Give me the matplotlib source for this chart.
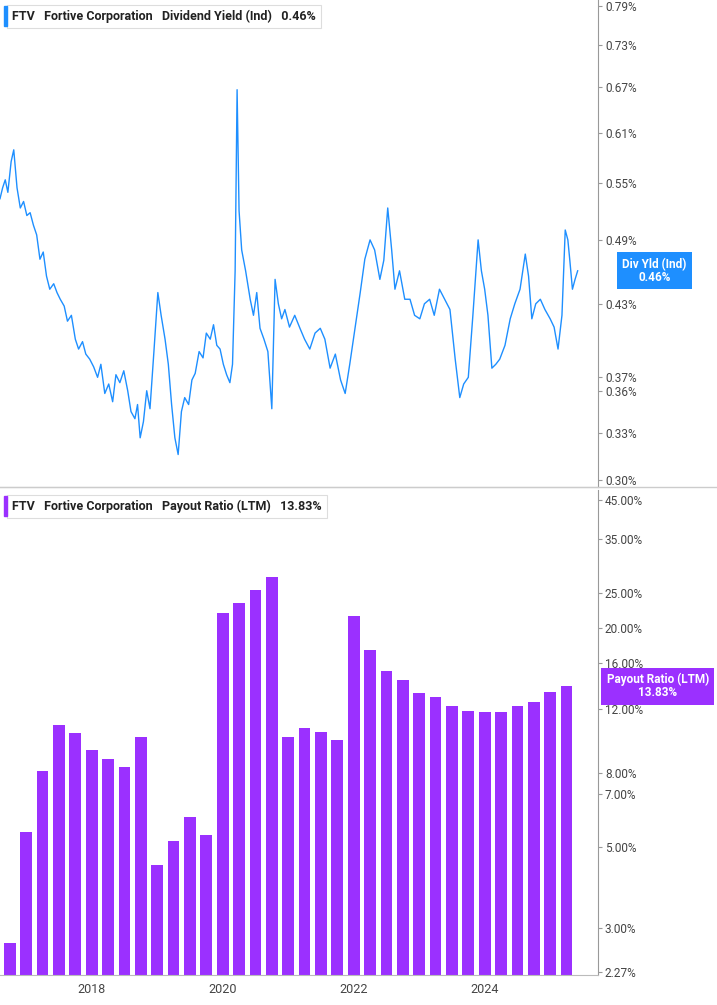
import matplotlib
matplotlib.use("Agg")
import matplotlib.pyplot as plt
from matplotlib.ticker import FixedLocator, NullLocator, FixedFormatter

yld_dates = [2016.60,2016.64,2016.68,2016.72,2016.77,2016.81,2016.86,2016.91,2016.96,2017.01,2017.06,2017.11,2017.16,2017.21,2017.26,2017.31,2017.36,2017.42,2017.47,2017.52,2017.58,2017.63,2017.69,2017.75,2017.80,2017.86,2017.91,2017.97,2018.03,2018.09,2018.14,2018.20,2018.26,2018.32,2018.37,2018.43,2018.49,2018.55,2018.60,2018.66,2018.70,2018.74,2018.79,2018.84,2018.89,2018.95,2019.01,2019.06,2019.12,2019.17,2019.22,2019.27,2019.32,2019.37,2019.42,2019.48,2019.53,2019.58,2019.64,2019.70,2019.75,2019.81,2019.86,2019.91,2019.96,2020.01,2020.06,2020.11,2020.15,2020.19,2020.22,2020.25,2020.29,2020.35,2020.42,2020.47,2020.52,2020.57,2020.63,2020.69,2020.75,2020.80,2020.85,2020.90,2020.95,2021.02,2021.10,2021.18,2021.25,2021.33,2021.41,2021.49,2021.56,2021.64,2021.72,2021.80,2021.87,2021.94,2022.02,2022.10,2022.17,2022.25,2022.32,2022.40,2022.46,2022.52,2022.58,2022.63,2022.70,2022.78,2022.86,2022.93,2023.01,2023.08,2023.16,2023.23,2023.31,2023.39,2023.47,2023.55,2023.62,2023.68,2023.75,2023.82,2023.90,2023.95,2024.00,2024.05,2024.11,2024.17,2024.23,2024.31,2024.39,2024.46,2024.54,2024.62,2024.67,2024.72,2024.78,2024.85,2024.92,2025.00,2025.06,2025.12,2025.18,2025.23,2025.27,2025.30,2025.34,2025.38,2025.42]
yld_vals = [0.533,0.545,0.554,0.540,0.575,0.589,0.545,0.523,0.530,0.515,0.518,0.505,0.495,0.471,0.478,0.455,0.443,0.448,0.440,0.434,0.428,0.415,0.420,0.400,0.392,0.398,0.388,0.384,0.378,0.370,0.380,0.358,0.365,0.352,0.372,0.366,0.375,0.360,0.345,0.340,0.350,0.327,0.338,0.360,0.347,0.390,0.440,0.420,0.400,0.380,0.350,0.327,0.316,0.345,0.355,0.350,0.368,0.373,0.390,0.385,0.405,0.400,0.412,0.395,0.392,0.380,0.372,0.366,0.380,0.460,0.666,0.520,0.480,0.460,0.434,0.420,0.440,0.409,0.400,0.390,0.347,0.452,0.430,0.417,0.425,0.410,0.420,0.409,0.400,0.392,0.405,0.409,0.400,0.377,0.388,0.368,0.358,0.380,0.409,0.440,0.471,0.490,0.480,0.452,0.470,0.523,0.480,0.443,0.460,0.434,0.434,0.420,0.417,0.430,0.434,0.420,0.443,0.434,0.425,0.384,0.355,0.365,0.370,0.420,0.490,0.460,0.443,0.420,0.377,0.380,0.384,0.395,0.417,0.430,0.443,0.476,0.455,0.417,0.430,0.434,0.425,0.417,0.410,0.392,0.420,0.500,0.490,0.470,0.443,0.452,0.460]

bar_dates = [2016.75 + 0.25*i for i in range(35)]
payout = [2.71,5.50,8.10,10.84,10.3,9.25,8.74,8.31,10.05,4.46,5.17,6.02,5.40,22.0,23.4,25.4,27.6,10.05,10.63,10.37,9.86,21.6,17.4,15.2,14.4,13.2,12.9,12.2,11.8,11.7,11.7,12.2,12.5,13.3,13.83]

top_ticks = [0.30,0.33,0.36,0.37,0.43,0.49,0.55,0.61,0.67,0.73,0.79]
bot_ticks = [2.27,3.0,5.0,7.0,8.0,12.0,16.0,20.0,25.0,35.0,45.0]
x_ticks = [2018,2020,2022,2024]

BLUE = "#1e8fff"
PURPLE = "#9b30ff"
plt.rcParams["font.family"] = "Roboto"
fig = plt.figure(figsize=(7.17,10.05), dpi=100)
ax1 = fig.add_axes([0, 0.5154, 0.834, 0.4846])
ax2 = fig.add_axes([0, 0.03, 0.834, 0.4826])

for ax in (ax1, ax2):
    ax.set_xlim(2016.6, 2025.73)
    ax.yaxis.tick_right()
    for s in ("top","left"):
        ax.spines[s].set_visible(False)
    ax.spines["right"].set_color("#999999")
    ax.spines["bottom"].set_color("#bbbbbb")
    ax.set_yscale("log")
    ax.yaxis.set_minor_locator(NullLocator())
    ax.tick_params(axis="y", labelsize=8.5, colors="#999999", length=3, pad=2, labelcolor="#444444")

ax1.plot(yld_dates, yld_vals, color=BLUE, lw=1.0)
ax1.set_ylim(0.2957, 0.800)
ax1.yaxis.set_major_locator(FixedLocator(top_ticks))
ax1.yaxis.set_major_formatter(FixedFormatter([f"{t:.2f}%" for t in top_ticks]))
ax1.set_xticks([])

ax2.bar(bar_dates, payout, width=0.18, color=PURPLE, bottom=0.01)
ax2.set_ylim(2.227, 47.9)
ax2.yaxis.set_major_locator(FixedLocator(bot_ticks))
ax2.yaxis.set_major_formatter(FixedFormatter([f"{t:.2f}%" for t in bot_ticks]))
ax2.set_xticks(x_ticks)
ax2.set_xticklabels([str(x) for x in x_ticks], fontsize=9, color="#444444")
ax2.tick_params(axis="x", length=0, pad=6)

def legend(ax, color, text, value):
    ax.add_patch(plt.Rectangle((0.006, 0.947), 0.006, 0.04, transform=ax.transAxes, color=color, clip_on=False, zorder=5))
    ax.text(0.02, 0.966, "FTV   Fortive Corporation   " + text + "   " + value, transform=ax.transAxes,
            fontsize=9, fontweight="bold", va="center", color="#222222",
            bbox=dict(boxstyle="square,pad=0.4", fc="white", ec="#dddddd", lw=0.8))

legend(ax1, BLUE, "Dividend Yield (Ind)", "0.46%")
legend(ax2, PURPLE, "Payout Ratio (LTM)", "13.83%")

ax1.annotate("Div Yld (Ind)\n0.46%", xy=(1.0, 0.46), xycoords=("axes fraction","data"), xytext=(1.094,0.46),
             textcoords=("axes fraction","data"), fontsize=8.5, ha="center", va="center", color="white",
             fontweight="bold", linespacing=1.0, annotation_clip=False,
             bbox=dict(boxstyle="square,pad=0.45", fc=BLUE, ec="none"))
ax2.annotate("Payout Ratio (LTM)\n13.83%", xy=(1.0, 13.83), xycoords=("axes fraction","data"), xytext=(1.1,13.83),
             textcoords=("axes fraction","data"), fontsize=8.5, ha="center", va="center", color="white",
             fontweight="bold", linespacing=1.0, annotation_clip=False,
             bbox=dict(boxstyle="square,pad=0.45", fc=PURPLE, ec="none"))

fig.add_artist(plt.Line2D([0,1],[0.5154,0.5154], color="#cccccc", lw=1))
fig.savefig("out.png", dpi=100)
